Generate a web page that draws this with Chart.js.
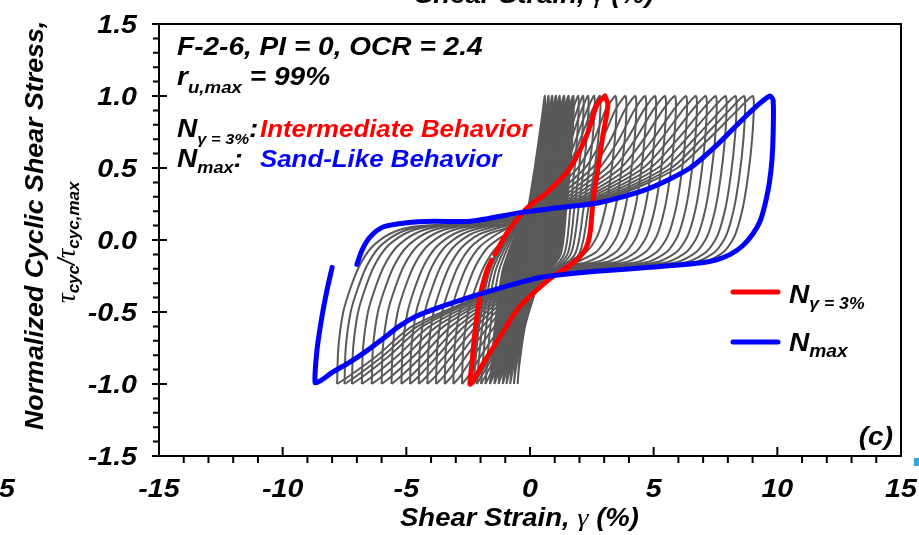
<!DOCTYPE html>
<html>
<head>
<meta charset="utf-8">
<script src="https://cdn.jsdelivr.net/npm/chart.js@4.4.1/dist/chart.umd.min.js"></script>
<style>
  html, body { margin: 0; padding: 0; background: #fff; }
</style>
</head>
<body>
<canvas id="myLoopChart" width="919" height="535"></canvas>
<script>
// axis ticks
const x_ticks = [-15, -10, -5, 0, 5, 10, 15];
const x_minor = [-14, -13, -12, -11, -9, -8, -7, -6, -4, -3, -2, -1, 1, 2, 3, 4, 6, 7, 8, 9, 11, 12, 13, 14];
const y_ticks = [-1.5, -1.0, -0.5, 0.0, 0.5, 1.0, 1.5];
const y_minor = [-1.4, -1.3, -1.2, -1.1, -0.9, -0.8, -0.7, -0.6, -0.4, -0.3, -0.2, -0.1,
                 0.1, 0.2, 0.3, 0.4, 0.6, 0.7, 0.8, 0.9, 1.1, 1.2, 1.3, 1.4];

// N_max loop (blue), [strain %, normalized stress]
const blue_loop = [[-7.0,-0.17],[-6.79,-0.07],[-6.47,0.02],[-5.94,0.09],[-4.97,0.12],[-3.92,0.13],[-2.43,0.13],
  [-0.4,0.19],[0.93,0.22],[2.83,0.26],[4.85,0.36],[6.47,0.5],[7.56,0.66],[8.49,0.82],[9.3,0.95],[9.7,1.0],
  [9.83,0.97],[9.83,0.73],[9.78,0.55],[9.68,0.4],[9.52,0.26],[9.3,0.13],[9.0,0.04],[8.6,-0.04],[8.1,-0.1],
  [7.5,-0.14],[6.87,-0.16],[4.85,-0.19],[2.83,-0.215],[1.6,-0.235],[0.4,-0.26],[-0.93,-0.32],[-2.3,-0.39],
  [-3.7,-0.47],[-4.6,-0.53],[-5.3,-0.6],[-5.9,-0.68],[-6.6,-0.77],[-7.3,-0.85],[-8.0,-0.92],[-8.5,-0.98],
  [-8.69,-0.99],[-8.61,-0.76],[-8.41,-0.53],[-8.21,-0.35],[-8.0,-0.19]];

// N gamma=3% loop (red)
const red_loop = [[3.03,1.0],[3.15,0.94],[2.95,0.73],[2.75,0.5],[2.55,0.27],[2.43,0.05],[2.28,-0.05],[2.0,-0.12],
  [1.5,-0.19],[0.8,-0.27],[-0.4,-0.46],[-1.21,-0.67],[-1.9,-0.86],[-2.35,-0.99],[-2.43,-1.0],[-2.35,-0.86],
  [-2.22,-0.63],[-2.02,-0.39],[-1.74,-0.21],[-1.55,-0.14],null,[-1.42,-0.1],[-0.93,0.05],[-0.4,0.17],[0,0.24],
  [0.69,0.33],[1.62,0.5],[2.3,0.73],[2.71,0.94],[3.03,1.0]];

// large gray loops: stress levels shared, strain per loop
const spread_y = [-1,-0.75,-0.5,-0.33,-0.18,-0.05,0.04,0.09,0.11,0.18,0.3,0.5,0.7,0.9,1,
  0.93,0.7,0.45,0.22,0.03,-0.08,-0.15,-0.18,-0.24,-0.4,-0.6,-0.8,-0.95,-1];
const spread_x = [
  [-2.75,-2.7,-2.5,-2.2,-1.85,-1.35,-0.65,-0.35,-0.1,0.3,0.75,1.93,2.6,3.05,3.45, 3.5,3.43,3.27,3.05,2.73,2.3,1.55,1.2,0.5,-0.41,-1.18,-1.97,-2.51,-2.75],
  [-3.1,-3.05,-2.85,-2.55,-2.2,-1.7,-1.0,-0.6,-0.3,0.3,0.94,2.22,2.93,3.44,3.85, 3.9,3.83,3.67,3.45,3.13,2.7,1.95,1.5,0.5,-0.53,-1.43,-2.26,-2.84,-3.1],
  [-3.45,-3.4,-3.2,-2.9,-2.55,-2.05,-1.35,-0.8,-0.4,0.3,1.13,2.51,3.27,3.82,4.25, 4.3,4.23,4.07,3.85,3.53,3.1,2.35,1.6,0.5,-0.65,-1.68,-2.55,-3.18,-3.45],
  [-3.8,-3.75,-3.55,-3.25,-2.9,-2.4,-1.7,-0.8,-0.45,0.3,1.32,2.8,3.6,4.21,4.65, 4.7,4.63,4.47,4.25,3.93,3.5,2.75,1.45,0.5,-0.77,-1.92,-2.84,-3.51,-3.8],
  [-4.15,-4.1,-3.9,-3.6,-3.25,-2.75,-2.05,-1.15,-0.6,0.3,1.5,3.09,3.93,4.59,5.05, 5.1,5.03,4.87,4.65,4.33,3.9,3.15,1.85,0.5,-0.89,-2.17,-3.13,-3.85,-4.15],
  [-4.5,-4.45,-4.25,-3.95,-3.6,-3.1,-2.4,-1.5,-0.8,0.3,1.69,3.38,4.26,4.97,5.45, 5.5,5.43,5.27,5.05,4.73,4.3,3.55,2.25,0.5,-1.01,-2.42,-3.42,-4.19,-4.5],
  [-4.85,-4.8,-4.6,-4.3,-3.95,-3.45,-2.75,-1.85,-1.0,0.3,1.88,3.67,4.6,5.36,5.85, 5.9,5.83,5.67,5.45,5.13,4.7,3.95,2.65,0.5,-1.13,-2.67,-3.71,-4.52,-4.85],
  [-5.2,-5.15,-4.95,-4.65,-4.3,-3.8,-3.1,-2.2,-0.9,0.3,2.09,3.98,4.97,5.79,6.3, 6.35,6.28,6.12,5.9,5.58,5.15,4.4,3.1,0.5,-1.25,-2.92,-4.0,-4.85,-5.2],
  [-5.6,-5.55,-5.35,-5.05,-4.7,-4.2,-3.5,-2.6,-1.1,0.3,2.28,4.29,5.3,6.17,6.7, 6.75,6.68,6.52,6.3,5.98,5.55,4.8,3.5,0.5,-1.39,-3.2,-4.33,-5.24,-5.6],
  [-6.0,-5.95,-5.75,-5.45,-5.1,-4.6,-3.9,-3.0,-1.5,0.3,2.47,4.58,5.64,6.55,7.1, 7.15,7.08,6.92,6.7,6.38,5.95,5.2,3.9,0.5,-1.53,-3.49,-4.66,-5.62,-6.0],
  [-6.4,-6.35,-6.15,-5.85,-5.5,-5.0,-4.3,-3.4,-1.9,0.3,2.66,4.87,5.97,6.94,7.5, 7.55,7.48,7.32,7.1,6.78,6.35,5.6,4.3,0.5,-1.66,-3.77,-5.0,-6.0,-6.4],
  [-6.8,-6.75,-6.55,-6.25,-5.9,-5.4,-4.7,-3.8,-2.3,0.3,2.85,5.16,6.3,7.32,7.9, 7.95,7.88,7.72,7.5,7.18,6.75,6.0,4.7,0.5,-1.8,-4.06,-5.33,-6.39,-6.8],
  [-7.2,-7.15,-6.95,-6.65,-6.3,-5.8,-5.1,-4.2,-2.7,0.3,3.04,5.45,6.63,7.71,8.3, 8.35,8.28,8.12,7.9,7.58,7.15,6.4,5.1,0.5,-1.94,-4.34,-5.66,-6.77,-7.2],
  [-7.5,-7.45,-7.25,-6.95,-6.6,-6.1,-5.4,-4.5,-3.0,0.3,3.21,5.71,6.93,8.05,8.65, 8.7,8.63,8.47,8.25,7.93,7.5,6.75,5.45,0.5,-2.04,-4.55,-5.91,-7.06,-7.5],
  [-7.8,-7.75,-7.55,-7.25,-6.9,-6.4,-5.7,-4.8,-3.3,0.3,3.37,5.96,7.22,8.38,9.0, 9.05,8.98,8.82,8.6,8.28,7.85,7.1,5.8,0.5,-2.14,-4.77,-6.16,-7.35,-7.8]
];

// early small loops (dense dark block)
const dense_y = [-1,-0.6,-0.2,0.15,0.5,0.85,1, 0.7,0.2,-0.1,-0.3,-0.6,-0.88,-1];
const dense_x = [
  [-0.5,-0.35,-0.22,-0.12,0.19,0.48,0.6, 0.59,0.52,0.47,0.3,-0.2,-0.44,-0.5],
  [-0.65,-0.49,-0.34,-0.14,0.28,0.61,0.75, 0.74,0.64,0.57,0.32,-0.26,-0.56,-0.65],
  [-0.8,-0.64,-0.45,-0.17,0.37,0.74,0.9, 0.88,0.76,0.67,0.34,-0.32,-0.67,-0.8],
  [-0.95,-0.78,-0.57,-0.19,0.46,0.86,1.05, 1.03,0.89,0.77,0.36,-0.38,-0.79,-0.95],
  [-1.1,-0.93,-0.69,-0.21,0.54,0.99,1.2, 1.17,1.01,0.87,0.37,-0.43,-0.91,-1.1],
  [-1.27,-1.09,-0.82,-0.24,0.65,1.14,1.38, 1.35,1.16,0.99,0.4,-0.5,-1.04,-1.27],
  [-1.44,-1.25,-0.95,-0.27,0.76,1.3,1.56, 1.52,1.3,1.11,0.42,-0.57,-1.18,-1.44],
  [-1.62,-1.42,-1.09,-0.3,0.87,1.46,1.75, 1.71,1.46,1.24,0.44,-0.64,-1.32,-1.62],
  [-1.8,-1.6,-1.23,-0.33,0.99,1.63,1.95, 1.9,1.62,1.38,0.47,-0.71,-1.46,-1.8],
  [-1.98,-1.77,-1.37,-0.36,1.1,1.8,2.15, 2.1,1.78,1.51,0.49,-0.78,-1.6,-1.98],
  [-2.15,-1.93,-1.5,-0.39,1.22,1.97,2.35, 2.29,1.95,1.64,0.52,-0.84,-1.73,-2.15],
  [-2.28,-2.06,-1.6,-0.43,1.37,2.18,2.6, 2.53,2.15,1.81,0.55,-0.89,-1.83,-2.28],
  [-2.37,-2.14,-1.67,-0.47,1.5,2.38,2.83, 2.76,2.34,1.97,0.58,-0.93,-1.9,-2.37]
];

const GRAY = '#595959';

function to_points(pairs) {
  return pairs.map(p => p === null ? {x: null, y: null} : {x: p[0], y: p[1]});
}

function runs(ctx, x, y, parts, sx, rot) {
  ctx.save();
  ctx.translate(x, y);
  if (rot) ctx.rotate(rot);
  ctx.scale(sx, 1);
  ctx.textBaseline = 'alphabetic';
  let cx = 0;
  for (const p of parts) {
    ctx.font = p.f || ('italic bold ' + p.s + 'px "Liberation Sans", Arial, sans-serif');
    ctx.fillStyle = p.c || '#000';
    ctx.fillText(p.t, cx, p.dy || 0);
    cx += ctx.measureText(p.t).width;
  }
  ctx.restore();
}

function txt_width(ctx, s, size, sx) {
  ctx.save();
  ctx.font = 'italic bold ' + size + 'px "Liberation Sans", Arial, sans-serif';
  const w = ctx.measureText(s).width * sx;
  ctx.restore();
  return w;
}

const decoPlugin = {
  id: 'deco',
  afterDraw(chart) {
    const ctx = chart.ctx;
    const xs = chart.scales.x, ys = chart.scales.y, a = chart.chartArea;
    ctx.save();
    ctx.strokeStyle = '#000';
    ctx.lineWidth = 2;
    ctx.strokeRect(a.left, a.top, a.right - a.left, a.bottom - a.top);

    ctx.beginPath();
    y_minor.forEach(v => { const py = ys.getPixelForValue(v); ctx.moveTo(a.left - 6, py); ctx.lineTo(a.left, py); });
    y_ticks.forEach(v => { const py = ys.getPixelForValue(v); ctx.moveTo(a.left - 7, py); ctx.lineTo(a.left + 8, py); });
    x_minor.forEach(v => { const px = xs.getPixelForValue(v); ctx.moveTo(px, a.bottom); ctx.lineTo(px, a.bottom + 7); });
    x_ticks.forEach(v => { const px = xs.getPixelForValue(v); ctx.moveTo(px, a.bottom - 9); ctx.lineTo(px, a.bottom); });
    ctx.stroke();

    // tick labels
    const TS = 26, SX = 1.1;
    y_ticks.forEach(v => {
      const s = v.toFixed(1);
      const w = txt_width(ctx, s, TS, SX);
      runs(ctx, a.left - 22 - w, ys.getPixelForValue(v) + 9, [{t: s, s: TS}], SX);
    });
    x_ticks.forEach(v => {
      const s = String(v);
      const w = txt_width(ctx, s, TS, SX);
      runs(ctx, xs.getPixelForValue(v) - w / 2, 497, [{t: s, s: TS}], SX);
    });

    // axis titles
    runs(ctx, 400, 526, [{t: 'Shear Strain, ', s: 25}, {t: 'γ', s: 25, f: 'italic 26px "Liberation Serif", serif'}, {t: ' (%)', s: 25}], 1.1);
    runs(ctx, 43, 430, [{t: 'Normalized Cyclic Shear Stress,', s: 25.5}], 1.05, -Math.PI / 2);
    const tau = 'italic 27px "Liberation Serif", serif';
    runs(ctx, 75, 303, [
      {t: 'τ', f: tau}, {t: 'cyc', s: 17, dy: 4}, {t: '/', f: 'italic 24px "Liberation Sans", sans-serif'},
      {t: 'τ', f: tau}, {t: 'cyc,max', s: 17, dy: 4}
    ], 1.0, -Math.PI / 2);

    // annotations
    runs(ctx, 177, 55, [{t: 'F-2-6, PI = 0, OCR = 2.4', s: 25.5}], 1.1);
    runs(ctx, 177, 85, [{t: 'r', s: 25.5}, {t: 'u,max', s: 17, dy: 8}, {t: ' = 99%', s: 25.5}], 1.1);
    runs(ctx, 177, 137, [{t: 'N', s: 25.5}, {t: 'γ = 3%', s: 15, dy: 7}, {t: ':', s: 25.5}], 1.1);
    runs(ctx, 260, 137, [{t: 'Intermediate Behavior', s: 23.5, c: '#ff0000'}], 1.1);
    runs(ctx, 177, 167, [{t: 'N', s: 25.5}, {t: 'max', s: 16.5, dy: 6}, {t: ':', s: 25.5}], 1.1);
    runs(ctx, 260, 167, [{t: 'Sand-Like Behavior', s: 23.5, c: '#0000ff'}], 1.1);

    // legend
    ctx.lineCap = 'round';
    ctx.lineWidth = 5;
    ctx.strokeStyle = '#ff0000';
    ctx.beginPath(); ctx.moveTo(733, 292); ctx.lineTo(778, 292); ctx.stroke();
    ctx.strokeStyle = '#0000ff';
    ctx.beginPath(); ctx.moveTo(733, 342); ctx.lineTo(778, 342); ctx.stroke();
    runs(ctx, 789, 303, [{t: 'N', s: 25.5}, {t: 'γ = 3%', s: 16, dy: 6}], 1.1);
    runs(ctx, 789, 351, [{t: 'N', s: 25.5}, {t: 'max', s: 17.5, dy: 6}], 1.1);

    // panel label
    const wc = txt_width(ctx, '(c)', 25.5, 1.1);
    runs(ctx, 893 - wc, 445, [{t: '(c)', s: 25.5}], 1.1);

    // bits of neighbouring panels
    const w5 = txt_width(ctx, '5', TS, SX);
    runs(ctx, 15 - w5, 497, [{t: '5', s: TS}], SX);
    runs(ctx, 415, 3, [{t: 'Shear Strain, ', s: 25}, {t: 'γ', s: 25, f: 'italic 26px "Liberation Serif", serif'}, {t: ' (%)', s: 25}], 1.1);
    ctx.fillStyle = '#29abe2';
    ctx.fillRect(914, 458, 5, 8);
    ctx.restore();
  }
};

const datasets = [];
datasets.push({
  data: to_points(blue_loop), showLine: true, borderColor: '#0000ff', borderWidth: 5,
  pointRadius: 0, tension: 0.25, fill: false, order: 0, borderCapStyle: 'round', borderJoinStyle: 'round'
});
datasets.push({
  data: to_points(red_loop), showLine: true, borderColor: '#ff0000', borderWidth: 5, spanGaps: false,
  pointRadius: 0, tension: 0.3, fill: false, order: 1, borderCapStyle: 'round', borderJoinStyle: 'round'
});
spread_x.forEach(xs => {
  datasets.push({
    data: xs.map((x, i) => ({x: x, y: spread_y[i]})), showLine: true, borderColor: GRAY, borderWidth: 2,
    pointRadius: 0, tension: 0.25, fill: false, order: 2, borderJoinStyle: 'round'
  });
});
dense_x.forEach((xs, k) => {
  datasets.push({
    data: xs.map((x, i) => ({x: x, y: dense_y[i]})), showLine: true, borderColor: GRAY, borderWidth: 2,
    backgroundColor: GRAY, pointRadius: 0, tension: 0.25, fill: k < 8 ? 'shape' : false, order: 3,
    borderJoinStyle: 'round'
  });
});

const ctx = document.getElementById('myLoopChart').getContext('2d');
window.myLoopChart = new Chart(ctx, {
  type: 'scatter',
  data: { datasets: datasets },
  options: {
    responsive: false,
    animation: false,
    layout: { padding: { left: 159, top: 24, right: 18, bottom: 79 } },
    plugins: { legend: { display: false }, tooltip: { enabled: false } },
    scales: {
      x: { type: 'linear', min: -15, max: 15, display: false },
      y: { type: 'linear', min: -1.5, max: 1.5, display: false }
    }
  },
  plugins: [decoPlugin]
});
</script>
</body>
</html>
